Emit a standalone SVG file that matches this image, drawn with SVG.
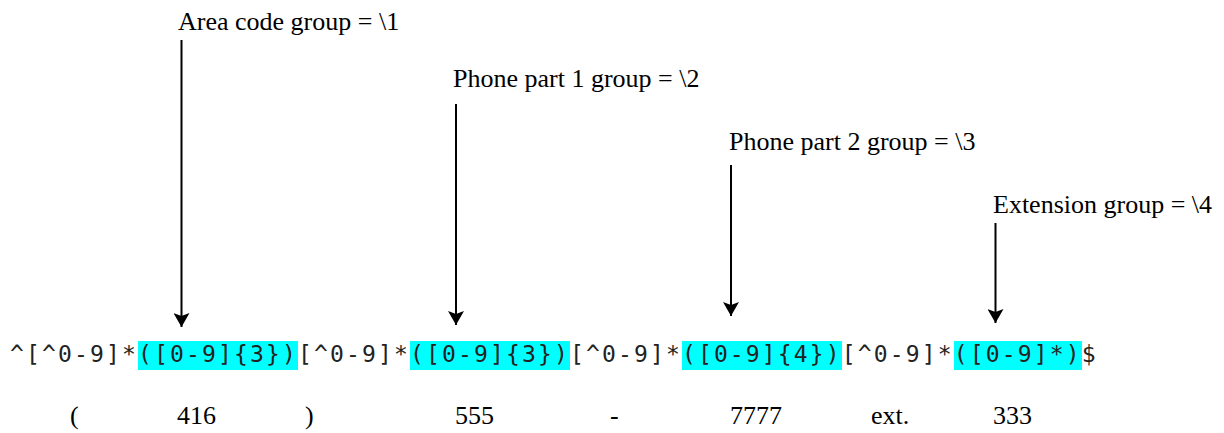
<svg xmlns="http://www.w3.org/2000/svg" width="1224" height="433" viewBox="0 0 1224 433">
  <style>
    .label { font-family: "Liberation Serif", "Times New Roman", serif; font-size: 26px; fill: #000; }
    .regex { font-family: "DejaVu Sans Mono", monospace; font-size: 23px; letter-spacing: 2.15px; fill: #222; }
    .hl { fill: #00ffff; }
  </style>
  <defs>
    <!-- downward arrowhead with a shallow notch at the back -->
    <marker id="down" viewBox="0 0 16 14" refX="8" refY="14" markerWidth="16" markerHeight="14" markerUnits="userSpaceOnUse" orient="0">
      <path d="M0,0 L8,3 L16,0 L8,14 Z" fill="#000"/>
    </marker>
  </defs>

  <!-- group captions -->
  <g id="label-area"><text class="label" x="178" y="30">Area code group = \1</text></g>
  <g id="label-part1"><text class="label" x="453" y="87">Phone part 1 group = \2</text></g>
  <g id="label-part2"><text class="label" x="729" y="150">Phone part 2 group = \3</text></g>
  <g id="label-ext"><text class="label" x="993" y="213">Extension group = \4</text></g>

  <!-- pointers from captions to capture groups -->
  <g id="connectors" stroke="#000" stroke-width="2" fill="none">
    <line x1="181.5" y1="40" x2="181.5" y2="327" marker-end="url(#down)"/>
    <line x1="456" y1="104" x2="456" y2="325" marker-end="url(#down)"/>
    <line x1="731" y1="165" x2="731" y2="316" marker-end="url(#down)"/>
    <line x1="995.5" y1="223" x2="995.5" y2="323" marker-end="url(#down)"/>
  </g>

  <!-- regular expression with highlighted capture groups -->
  <g id="regex">
    <rect class="hl" x="138" y="341" width="160" height="29"/>
    <rect class="hl" x="410" y="341" width="160" height="29"/>
    <rect class="hl" x="682" y="341" width="160" height="29"/>
    <rect class="hl" x="954" y="341" width="128" height="29"/>
    <text class="regex" x="10" y="362">^[^0-9]*([0-9]{3})[^0-9]*([0-9]{3})[^0-9]*([0-9]{4})[^0-9]*([0-9]*)$</text>
  </g>

  <!-- sample input split by group -->
  <g id="sample">
    <text class="label" x="70" y="424">(</text>
    <text class="label" x="177" y="424">416</text>
    <text class="label" x="305" y="424">)</text>
    <text class="label" x="455" y="424">555</text>
    <text class="label" x="610" y="424">-</text>
    <text class="label" x="730" y="424">7777</text>
    <text class="label" x="871" y="424">ext.</text>
    <text class="label" x="993" y="424">333</text>
  </g>
</svg>
